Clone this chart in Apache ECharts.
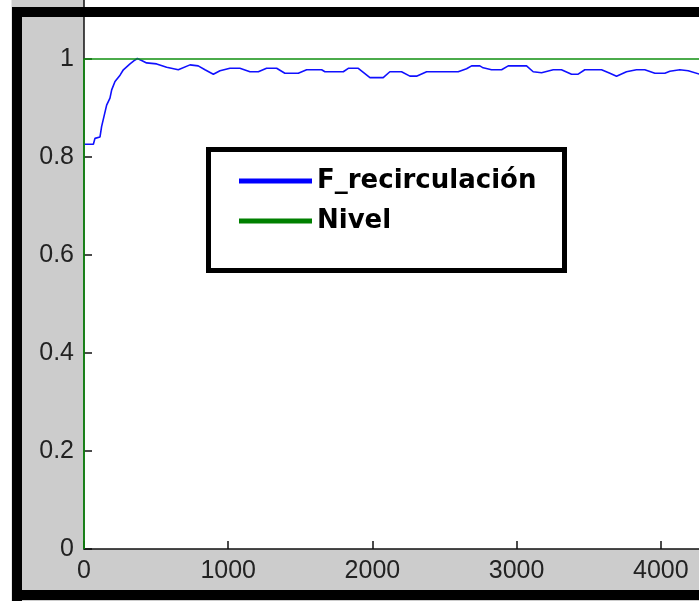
<!DOCTYPE html>
<html>
<head>
<meta charset="utf-8">
<script src="https://cdn.jsdelivr.net/npm/echarts@6/dist/echarts.min.js"></script>
<style>html,body{margin:0;padding:0;background:#fff}#c{width:699px;height:601px}</style>
</head>
<body>
<div id="c"></div>
<script>
var recircT = [0,65,76,111,122,146,157,180,192,215,250,273,296,319,354,370,400,434,504,573,654,666,735,792,
  839,897,943,1012,1081,1151,1209,1266,1336,1393,1486,1544,1648,1671,1798,1833,1902,1983,2075,2121,2202,2260,2306,2376,
  2595,2653,2688,2745,2768,2826,2896,2942,3069,3115,3173,3184,3254,3311,3381,3427,3473,3589,3647,3693,3762,3831,3889,
  3959,4028,4063,4132,4190,4270];
var recircV = [0.826,0.826,0.838,0.841,0.862,0.892,0.906,0.920,0.937,0.954,0.967,0.978,0.984,0.990,0.998,1.001,0.997,0.992,0.990,0.983,0.978,0.981,0.988,0.986,
  0.978,0.969,0.976,0.981,0.981,0.974,0.974,0.981,0.981,0.971,0.971,0.978,0.978,0.974,0.974,0.981,0.981,0.962,0.962,0.974,0.974,0.965,0.965,0.974,
  0.974,0.980,0.986,0.986,0.982,0.978,0.978,0.986,0.986,0.974,0.972,0.969,0.978,0.978,0.969,0.969,0.978,0.978,0.971,0.965,0.974,0.978,0.978,
  0.971,0.971,0.975,0.978,0.976,0.969];
var nivelT = [0,0,5000];
var nivelV = [0,1,1];
var xTicks = {min:0, max:5000, interval:1000};
var yTicks = {min:0, max:1.2, interval:0.2};
var seriesNames = ['F_recirculación','Nivel'];

function pairs(t,v){return t.map(function(x,i){return [x,v[i]];});}

var chart = echarts.init(document.getElementById('c'), null, {renderer:'canvas'});
var axisFont = {fontFamily:'Liberation Sans, Arial, sans-serif', fontSize:25, color:'#222'};
chart.setOption({
  animation:false,
  backgroundColor:'#cccccc',
  grid:{left:84, top:-39, bottom:52, right:-106, containLabel:false, outerBoundsMode:'none',
    show:true, backgroundColor:'#ffffff', borderWidth:0},
  xAxis:{type:'value', min:xTicks.min, max:xTicks.max, interval:xTicks.interval,
    axisLine:{show:true, onZero:false, lineStyle:{color:'#111', width:1.5}},
    axisTick:{show:true, inside:true, length:8, lineStyle:{color:'#111', width:1.5}},
    axisLabel:Object.assign({margin:10, formatter:function(v){return String(v);}}, axisFont),
    splitLine:{show:false}},
  yAxis:{type:'value', min:yTicks.min, max:yTicks.max, interval:yTicks.interval,
    axisLine:{show:true, onZero:false, lineStyle:{color:'#111', width:1.5}},
    axisTick:{show:true, inside:true, length:8, lineStyle:{color:'#111', width:1.5}},
    axisLabel:Object.assign({margin:10, formatter:function(v){return String(Math.round(v*10)/10);}}, axisFont),
    splitLine:{show:false}},
  legend:{orient:'vertical', left:239, top:168, itemWidth:73, itemHeight:5, itemGap:14, icon:'rect',
    padding:0, z:20,
    textStyle:{fontFamily:'DejaVu Sans', fontWeight:'bold', fontSize:26, lineHeight:26, color:'#000'},
    data:seriesNames},
  series:[
    {name:seriesNames[0], type:'line', data:pairs(recircT,recircV), showSymbol:false, symbol:'none',
      itemStyle:{color:'#0000ff'}, lineStyle:{color:'#1010ff', width:1.6}, z:3},
    {name:seriesNames[1], type:'line', data:pairs(nivelT,nivelV), showSymbol:false, symbol:'none',
      itemStyle:{color:'#008000'}, lineStyle:{color:'#109010', width:1.6}, z:4}
  ],
  graphic:[
    {type:'rect', z:15, shape:{x:208.5, y:149.5, width:356, height:121},
      style:{fill:'#ffffff', stroke:'#000', lineWidth:5}},
    {type:'rect', z:100, shape:{x:0, y:0, width:11.5, height:601}, style:{fill:'#ffffff'}},
    {type:'rect', z:100, shape:{x:12, y:7, width:700, height:10}, style:{fill:'#000'}},
    {type:'rect', z:100, shape:{x:12, y:7, width:10, height:594}, style:{fill:'#000'}},
    {type:'rect', z:100, shape:{x:12, y:590, width:700, height:10}, style:{fill:'#000'}}
  ]
});
</script>
</body>
</html>
